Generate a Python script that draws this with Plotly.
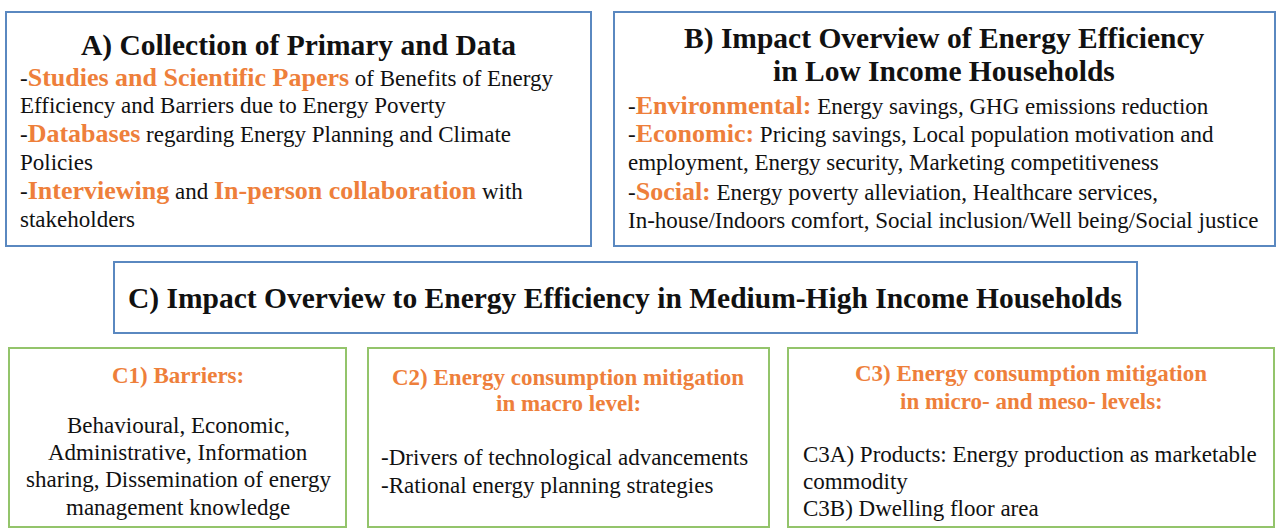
import plotly.graph_objects as go

# ---------------- data (texts of the diagram) ----------------
A_title = ["A) Collection of Primary and Data"]
A_lines = [
    [("-", 0), ("Studies and Scientific Papers", 1), (" of Benefits of Energy", 0)],
    [("Efficiency and Barriers due to Energy Poverty", 0)],
    [("-", 0), ("Databases", 1), (" regarding Energy Planning and Climate", 0)],
    [("Policies", 0)],
    [("-", 0), ("Interviewing", 1), (" and ", 0), ("In-person collaboration", 1), (" with", 0)],
    [("stakeholders", 0)],
]
B_title = ["B) Impact Overview of Energy Efficiency", "in Low Income Households"]
B_lines = [
    [("-", 0), ("Environmental:", 1), (" Energy savings, GHG emissions reduction", 0)],
    [("-", 0), ("Economic:", 1), (" Pricing savings, Local population motivation and", 0)],
    [("employment, Energy security, Marketing competitiveness", 0)],
    [("-", 0), ("Social:", 1), (" Energy poverty alleviation, Healthcare services,", 0)],
    [("In-house/Indoors comfort, Social inclusion/Well being/Social justice", 0)],
]
C_title = ["C) Impact Overview to Energy Efficiency in Medium-High Income Households"]
C1_title = ["C1) Barriers:"]
C1_lines = ["Behavioural, Economic,", "Administrative, Information",
            "sharing, Dissemination of energy", "management knowledge"]
C2_title = ["C2) Energy consumption mitigation", "in macro level:"]
C2_lines = ["-Drivers of technological advancements", "-Rational energy planning strategies"]
C3_title = ["C3) Energy consumption mitigation", "in micro- and meso- levels:"]
C3_lines = ["C3A) Products: Energy production as marketable", "commodity",
            "C3B) Dwelling floor area"]

# ---------------- styles / layout ----------------
W, H = 1276, 529
FONT = "Liberation Serif, Times New Roman, serif"
BLACK = "#111111"
ORANGE = "#EE7F3B"
BLUE = "#5A88C0"
GREEN = "#93C46B"
TITLE = 29.5
BODY = 23
HILITE = 26
SUB = 23

fig = go.Figure()
shapes = []
annos = []


def box(x0, y0, x1, y1, color):
    shapes.append(dict(type="rect", xref="x", yref="y", x0=x0, y0=y0, x1=x1, y1=y1,
                       line=dict(color=color, width=2), fillcolor="rgba(0,0,0,0)"))


def text(x, y, s, size, color=BLACK, anchor="left", bold=False):
    if bold:
        s = "<b>" + s + "</b>"
    annos.append(dict(x=x, y=y, xref="x", yref="y", text=s, showarrow=False,
                      xanchor=anchor, yanchor="middle", align=anchor,
                      font=dict(family=FONT, size=size, color=color), borderpad=0))


def rich(segs, hsize):
    out = ""
    for t, h in segs:
        if h:
            out += "<span style='color:%s;font-size:%spx'><b>%s</b></span>" % (ORANGE, hsize, t)
        else:
            out += t
    return out


# Box A
box(6, 12, 591, 246, BLUE)
text(298, 45, A_title[0], TITLE, anchor="center", bold=True)
for i, segs in enumerate(A_lines):
    text(19, 77 + i * 28.4, rich(segs, HILITE), BODY)

# Box B
box(614, 12, 1275, 246, BLUE)
for i, t in enumerate(B_title):
    text(944, 38 + i * 33, t, TITLE, anchor="center", bold=True)
for i, segs in enumerate(B_lines):
    text(627, 105 + i * 28.8, rich(segs, HILITE), BODY)

# Box C
box(114, 262, 1137, 333, BLUE)
text(625, 298, C_title[0], TITLE, anchor="center", bold=True)

# Box C1
box(9, 348, 346, 527, GREEN)
text(178, 375, C1_title[0], SUB, color=ORANGE, anchor="center", bold=True)
for i, t in enumerate(C1_lines):
    text(178, 425 + i * 27.4, t, BODY, anchor="center")

# Box C2
box(368, 348, 769, 527, GREEN)
for i, t in enumerate(C2_title):
    text(568, 377 + i * 26.5, t, SUB, color=ORANGE, anchor="center", bold=True)
for i, t in enumerate(C2_lines):
    text(380, 457 + i * 28, t, BODY)

# Box C3
box(788, 348, 1274, 527, GREEN)
for i, t in enumerate(C3_title):
    text(1031, 373 + i * 28, t, SUB, color=ORANGE, anchor="center", bold=True)
for i, t in enumerate(C3_lines):
    text(802, 454 + i * 27, t, BODY)

fig.update_layout(
    width=W, height=H, margin=dict(l=0, r=0, t=0, b=0),
    paper_bgcolor="white", plot_bgcolor="white",
    xaxis=dict(range=[0, W], visible=False, fixedrange=True),
    yaxis=dict(range=[H, 0], visible=False, fixedrange=True),
    shapes=shapes, annotations=annos, showlegend=False,
)
fig.write_html("out.html", config={"displayModeBar": False},
               post_script="document.body.style.margin='0';document.body.style.overflow='hidden';")
